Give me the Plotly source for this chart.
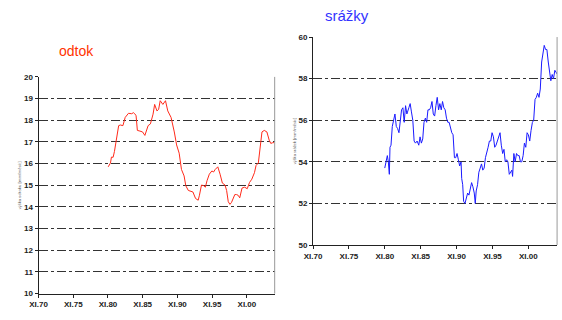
import plotly.graph_objects as go

# ---- data ----
odtok_year = [1980.03, 1980.36, 1980.50, 1980.74, 1980.93, 1981.21, 1981.54, 1981.78, 1982.15, 1982.48,
              1982.95, 1983.42, 1983.66, 1984.04, 1984.23, 1984.60, 1984.98, 1985.31, 1985.78, 1986.11,
              1986.49, 1986.72, 1987.05, 1987.29, 1987.52, 1987.90, 1988.28, 1988.61, 1989.08, 1989.55,
              1989.88, 1990.25, 1990.58, 1990.96, 1991.20, 1991.57, 1991.90, 1992.23, 1992.61, 1992.99,
              1993.17, 1993.46, 1993.79, 1994.02, 1994.26, 1994.59, 1994.96, 1995.20, 1995.44, 1995.81,
              1996.14, 1996.47, 1996.85, 1997.08, 1997.32, 1997.56, 1997.79, 1998.03, 1998.26, 1998.50,
              1998.73, 1998.97, 1999.30, 1999.68, 2000.05, 2000.38, 2000.71, 2001.09, 2001.32, 2001.65,
              2001.94, 2002.17, 2002.50, 2002.88, 2003.21, 2003.44, 2003.68, 2003.91]
odtok_val = [15.85, 16.03, 16.30, 16.29, 16.56, 17.08, 17.75, 17.78, 17.75, 18.13,
             18.32, 18.30, 18.35, 18.23, 17.53, 17.50, 17.46, 17.30, 17.75, 17.83,
             18.28, 18.73, 18.43, 18.50, 18.90, 18.73, 18.90, 18.43, 18.13, 17.46,
             16.86, 16.48, 15.73, 15.43, 14.98, 14.76, 14.72, 14.69, 14.39, 14.31,
             14.54, 15.01, 14.98, 14.91, 15.21, 15.51, 15.66, 15.61, 15.73, 15.85,
             15.51, 15.10, 15.01, 14.76, 14.24, 14.12, 14.21, 14.39, 14.57, 14.57,
             14.54, 14.42, 14.87, 14.91, 14.84, 15.13, 15.28, 15.58, 15.91, 16.03,
             16.93, 17.46, 17.53, 17.46, 17.08, 16.93, 16.96, 16.97]

srazky_year = [1979.99, 1980.12, 1980.35, 1980.49, 1980.63, 1980.72, 1980.86, 1981.04, 1981.23, 1981.41,
               1981.60, 1981.78, 1981.97, 1982.15, 1982.33, 1982.52, 1982.70, 1982.89, 1983.07, 1983.35,
               1983.53, 1983.71, 1983.90, 1984.08, 1984.27, 1984.50, 1984.73, 1984.91, 1985.09, 1985.28,
               1985.46, 1985.65, 1985.83, 1986.01, 1986.20, 1986.38, 1986.57, 1986.75, 1986.94, 1987.12,
               1987.30, 1987.49, 1987.67, 1987.86, 1988.04, 1988.22, 1988.41, 1988.59, 1988.78, 1988.96,
               1989.14, 1989.33, 1989.51, 1989.70, 1989.88, 1990.06, 1990.25, 1990.43, 1990.62, 1990.71,
               1990.85, 1990.98, 1991.17, 1991.35, 1991.54, 1991.72, 1991.91, 1992.09, 1992.27, 1992.46,
               1992.60, 1992.73, 1992.92, 1993.10, 1993.29, 1993.47, 1993.65, 1993.84, 1994.02, 1994.21,
               1994.39, 1994.57, 1994.76, 1994.94, 1995.13, 1995.31, 1995.49, 1995.68, 1995.86, 1996.05,
               1996.23, 1996.42, 1996.60, 1996.78, 1996.97, 1997.15, 1997.34, 1997.52, 1997.70, 1997.80,
               1997.98, 1998.16, 1998.35, 1998.53, 1998.72, 1998.90, 1999.08, 1999.27, 1999.45, 1999.64,
               1999.82, 2000.00, 2000.19, 2000.37, 2000.56, 2000.74, 2000.93, 2001.11, 2001.29, 2001.48,
               2001.66, 2001.85, 2002.03, 2002.21, 2002.40, 2002.58, 2002.77, 2002.95, 2003.13, 2003.32,
               2003.50, 2003.69, 2003.87, 2004.05]
srazky_val = [53.7, 54.0, 54.3, 54.0, 53.4, 54.7, 54.8, 55.7, 56.1, 56.3,
              55.7, 55.6, 55.4, 56.1, 56.5, 56.6, 55.9, 56.7, 56.3, 56.6,
              56.8, 56.4, 56.0, 55.0, 54.9, 55.0, 54.8, 55.2, 54.9, 55.1,
              55.9, 56.1, 55.9, 56.5, 56.5, 56.6, 56.9, 56.3, 56.2, 56.7,
              57.1, 56.5, 56.8, 56.5, 56.9, 56.6, 56.5, 56.1, 55.9, 55.9,
              55.6, 55.4, 55.3, 54.2, 54.2, 54.4, 54.1, 53.8, 54.0, 53.2,
              52.9, 52.1, 52.0, 52.2, 52.5, 52.4, 52.7, 53.0, 52.8, 52.5,
              52.0, 52.6, 52.9, 53.5, 53.7, 53.9, 53.6, 53.7, 54.2, 54.4,
              54.7, 55.0, 55.0, 55.4, 55.2, 54.7, 54.8, 55.0, 55.2, 55.4,
              54.8, 54.4, 54.6, 54.0, 54.1, 54.0, 53.4, 53.5, 53.6, 53.3,
              54.4, 54.0, 54.4, 54.3, 54.3, 54.0, 54.0, 54.3, 54.9, 54.7,
              55.4, 55.3, 55.0, 55.5, 55.9, 56.0, 57.0, 57.1, 57.3, 57.1,
              57.5, 58.8, 59.3, 59.6, 59.4, 59.4, 58.8, 58.4, 57.9, 58.2,
              58.0, 58.4, 58.3, 58.2]

x_tickvals = [1970, 1975, 1980, 1985, 1990, 1995, 2000]
x_ticktext = ["XI.70", "XI.75", "XI.80", "XI.85", "XI.90", "XI.95", "XI.00"]

odtok_ticks = list(range(10, 21))
srazky_ticks = [50, 52, 54, 56, 58, 60]

fig = go.Figure()
fig.add_trace(go.Scatter(x=odtok_year, y=odtok_val, mode="lines",
                         line=dict(color="#ff2a1a", width=1), xaxis="x", yaxis="y",
                         showlegend=False))
fig.add_trace(go.Scatter(x=srazky_year, y=srazky_val, mode="lines",
                         line=dict(color="#1a1aff", width=1), xaxis="x2", yaxis="y2",
                         showlegend=False))

tickfont = dict(family="Liberation Sans Narrow, Arial Narrow, Liberation Sans, Arial", size=8,
                color="#222222", weight="bold")
xcommon = dict(range=[1970, 2004], tickvals=x_tickvals, ticktext=x_ticktext,
               showgrid=False, zeroline=False, showline=True, linecolor="#222222",
               linewidth=1, ticks="outside", ticklen=3, tickcolor="#222222",
               tickfont=tickfont, fixedrange=True)
ycommon = dict(showgrid=True, gridcolor="#333333", griddash="dashdot", gridwidth=1,
               zeroline=False, showline=True, linecolor="#222222", linewidth=1,
               ticks="outside", ticklen=3, tickcolor="#222222", tickfont=tickfont,
               mirror=False, fixedrange=True)

fig.update_layout(
    width=562, height=320,
    margin=dict(l=0, r=0, t=0, b=0),
    paper_bgcolor="white", plot_bgcolor="white",
    xaxis=dict(domain=[30/562, 270/562], anchor="y", **xcommon),
    yaxis=dict(domain=[1-298/320, 1-75/320], anchor="x", range=[10, 20],
               tickvals=odtok_ticks,
               title=dict(text="výška odtoku [mm/měsíc]", font=dict(size=4, color="#555555"),
                          standoff=2),
               **ycommon),
    xaxis2=dict(domain=[309/562, 557/562], anchor="y2", **xcommon),
    yaxis2=dict(domain=[1-248/320, 1-34/320], anchor="x2", range=[50, 60],
                tickvals=srazky_ticks,
                title=dict(text="výška srážek [mm/měsíc]", font=dict(size=4, color="#555555"),
                           standoff=2),
                **ycommon),
    shapes=[
        dict(type="line", xref="paper", yref="paper", x0=270/562, x1=270/562,
             y0=1-298/320, y1=1-75/320, line=dict(color="#999999", width=1)),
        dict(type="line", xref="paper", yref="paper", x0=557/562, x1=557/562,
             y0=1-248/320, y1=1-34/320, line=dict(color="#999999", width=1)),
    ],
    annotations=[
        dict(text="odtok", xref="paper", yref="paper", x=69/562, y=1-48/320,
             xanchor="center", yanchor="middle", showarrow=False,
             font=dict(family="Liberation Sans, Arial", size=14, color="#ff3300")),
        dict(text="srážky", xref="paper", yref="paper", x=343/562, y=1-12/320,
             xanchor="center", yanchor="middle", showarrow=False,
             font=dict(family="Liberation Sans, Arial", size=15, color="#3333ff")),
    ],
)

fig.write_html("out.html", config={"displayModeBar": False},
               post_script="document.body.style.margin='0';document.body.style.overflow='hidden';")
